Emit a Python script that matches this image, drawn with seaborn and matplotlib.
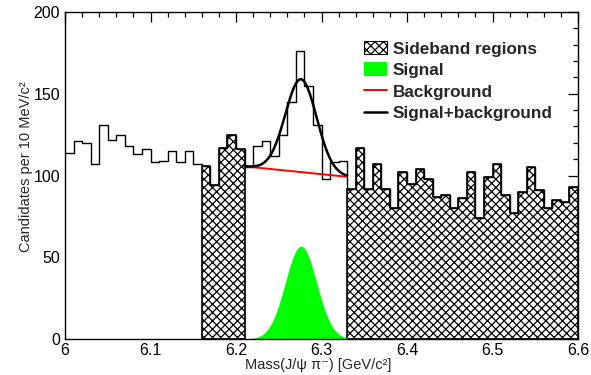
import numpy as np
import pandas as pd
import matplotlib
matplotlib.use("Agg")
import matplotlib.pyplot as plt
import seaborn as sns
from matplotlib.patches import Patch
from matplotlib.lines import Line2D
from matplotlib.ticker import MultipleLocator, FuncFormatter

# ---------------- data ----------------
mass_start = 6.00
bin_width = 0.01
counts = [114, 121, 120, 107, 131, 122, 125, 118, 113, 116,
          108, 109, 115, 108, 115, 107, 106, 94, 117, 125,
          116, 105, 118, 121, 112, 125, 145, 176, 155, 131,
          98, 108, 109, 92, 117, 92, 107, 92, 80, 102,
          95, 104, 98, 87, 88, 80, 86, 102, 74, 99,
          107, 88, 77, 90, 105, 91, 80, 85, 84, 93]
sideband_low = (6.16, 6.21)
sideband_high = (6.33, 6.60)
signal_window = (6.21, 6.33)
# fit results
sig_amp = 56.8
sig_mean = 6.276
sig_sigma = 0.0183
bkg_at_low = 105.6
bkg_at_high = 99.2

legend_labels = ["Sideband regions", "Signal", "Background", "Signal+background"]
x_label = "Mass(J/ψ π⁻) [GeV/c²]"
y_label = "Candidates per 10 MeV/c²"

# ---------------- style ----------------
sns.set_style("white")
plt.rcParams['font.family'] = ['Liberation Sans', 'DejaVu Sans']
plt.rcParams['hatch.linewidth'] = 0.9
plt.rcParams['hatch.color'] = 'black'

n = len(counts)
edges = [round(mass_start + bin_width * i, 3) for i in range(n + 1)]
centers = [round(e + bin_width / 2, 4) for e in edges[:-1]]
df = pd.DataFrame({"mass": centers, "count": counts})

fig = plt.figure(figsize=(5.91, 3.75), dpi=100)
ax = fig.add_axes([65 / 591, 36 / 375, 513 / 591, 327 / 375])

# sideband hatched regions
for lo, hi in (sideband_low, sideband_high):
    sub = df[(df["mass"] > lo) & (df["mass"] < hi)]
    sb_edges = [e for e in edges if lo - 1e-9 <= e <= hi + 1e-9]
    sns.histplot(data=sub, x="mass", weights="count", bins=sb_edges,
                 element="step", fill=True, color="black", alpha=1,
                 linewidth=1.2, ax=ax)
    poly = ax.collections[-1]
    poly.set_facecolor("white")
    poly.set_edgecolor("black")
    poly.set_hatch("xxxx")

# signal & background model curves
xs = np.linspace(signal_window[0], signal_window[1], 400)
sig = sig_amp * np.exp(-0.5 * ((xs - sig_mean) / sig_sigma) ** 2)
bkg = bkg_at_low + (bkg_at_high - bkg_at_low) * (xs - signal_window[0]) / (signal_window[1] - signal_window[0])
ax.fill_between(xs, 0, sig, color="#00ff00", linewidth=0)

# main histogram outline
sns.histplot(data=df, x="mass", weights="count", bins=edges,
             element="step", fill=False, color="black", linewidth=1.0, ax=ax)

sns.lineplot(x=[signal_window[0], signal_window[1]], y=[bkg_at_low, bkg_at_high],
             color="#ff0000", linewidth=1.4, ax=ax)
sns.lineplot(x=xs, y=sig + bkg, color="black", linewidth=1.8, ax=ax)

ax.set_xlim(6.0, 6.6)
ax.set_ylim(0, 200)

ax.xaxis.set_major_locator(MultipleLocator(0.1))
ax.xaxis.set_minor_locator(MultipleLocator(0.02))
ax.yaxis.set_major_locator(MultipleLocator(50))
ax.yaxis.set_minor_locator(MultipleLocator(10))
ax.xaxis.set_major_formatter(FuncFormatter(lambda v, p: f"{v:g}"))
ax.tick_params(which="both", direction="in", top=True, right=True,
               width=0.9, color="black", labelsize=11.5, labelcolor="black")
ax.tick_params(axis="x", which="major", pad=2.6)
ax.tick_params(which="major", length=7.5)
ax.tick_params(which="minor", length=3.8)
for s in ax.spines.values():
    s.set_color("black")
    s.set_linewidth(1.0)

ax.set_xlabel(x_label, fontsize=10.5)
ax.set_ylabel(y_label, fontsize=10.5)
ax.xaxis.set_label_coords(0.493, -0.058)
ax.yaxis.set_label_coords(-0.063, 0.526)

handles = [Patch(facecolor="white", edgecolor="black", hatch="xxxx", linewidth=0.8),
           Patch(facecolor="#00ff00", edgecolor="none"),
           Line2D([], [], color="#ff0000", linewidth=1.4),
           Line2D([], [], color="black", linewidth=1.8)]
leg = ax.legend(handles, legend_labels, loc="upper left",
                bbox_to_anchor=(0.583, 0.912), frameon=False,
                prop={"weight": "bold", "size": 12.3}, borderpad=0,
                handlelength=1.35, handleheight=0.85, handletextpad=0.33,
                labelspacing=0.34, borderaxespad=0)

fig.savefig("out.png", dpi=100)
